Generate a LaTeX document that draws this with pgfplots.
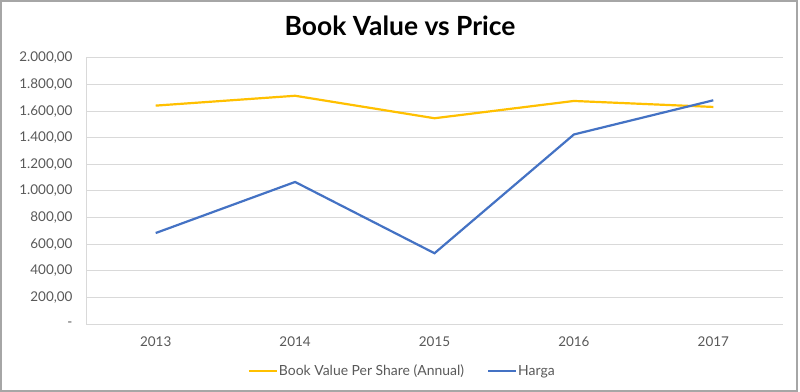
\documentclass[border=0pt]{standalone}
\usepackage{pgfplots}
\pgfplotsset{compat=1.18}
\usepackage{fontspec}
\setmainfont{Lato}
\definecolor{cyellow}{HTML}{FFC000}
\definecolor{cblue}{HTML}{4472C4}
\definecolor{cgrid}{HTML}{D9D9D9}
\definecolor{ctext}{HTML}{595959}
\begin{document}
\begin{tikzpicture}
\useasboundingbox (0,0) rectangle (800bp,392bp);
\fill[white] (0,0) rectangle (800bp,392bp);
\draw[color=gray!70, line width=2bp] (1bp,1bp) rectangle (797bp,391bp);
\node[font=\fontsize{26.5}{30}\selectfont\bfseries] at (400bp,366bp) {Book Value vs Price};
\begin{axis}[
  at={(86bp,68bp)}, anchor=south west,
  scale only axis, width=697bp, height=266bp,
  xmin=-0.5, xmax=4.5, ymin=0, ymax=2000,
  xtick={0,1,2,3,4},
  xticklabels={2013,2014,2015,2016,2017},
  ytick={0,200,400,600,800,1000,1200,1400,1600,1800,2000},
  yticklabels={{-},{200,00},{400,00},{600,00},{800,00},{1.000,00},{1.200,00},{1.400,00},{1.600,00},{1.800,00},{2.000,00}},
  axis line style={draw=none},
  major tick length=0pt,
  ymajorgrids, grid style={cgrid, line width=1bp},
  tick label style={font=\fontsize{13.5}{15}\selectfont, text=ctext},
  yticklabel style={xshift=-10bp},
  xticklabel style={yshift=-9bp},
  legend style={at={(0.453,-0.177)}, anchor=center, draw=none, fill=none,
    font=\fontsize{14}{16}\selectfont, text=ctext, column sep=0pt,
    nodes={inner sep=1bp},
    /tikz/every even column/.append style={column sep=22bp}},
  legend columns=2,
  legend cell align=left,
  legend image code/.code={\draw[#1, line width=2.2bp] (0bp,0bp) -- (28bp,0bp);},
  clip=false,
]
\draw[cgrid, line width=1bp] (rel axis cs:0,0) -- (rel axis cs:0,1);
\addplot[cyellow, line width=2.2bp] coordinates {(0,1642) (1,1716) (2,1547) (3,1677) (4,1632)};
\addlegendentry{Book Value Per Share (Annual)}
\addplot[cblue, line width=2.2bp] coordinates {(0,684) (1,1068) (2,532) (3,1425) (4,1682)};
\addlegendentry{Harga}
\end{axis}
\end{tikzpicture}
\end{document}
